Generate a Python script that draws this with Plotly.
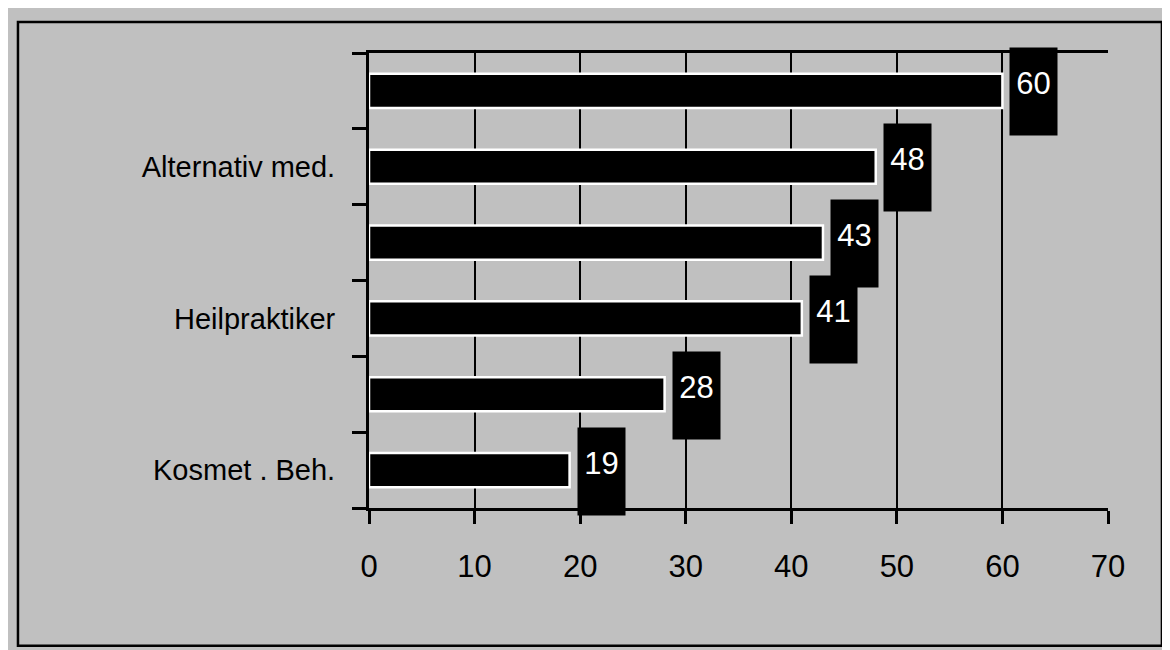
import plotly.graph_objects as go

# Data (bottom to top)
labels = ["Kosmet . Beh.", "", "Heilpraktiker", "", "Alternativ med.", ""]
values = [19, 28, 41, 43, 48, 60]
x_ticks = [0, 10, 20, 30, 40, 50, 60, 70]

FONT = "Liberation Sans, Arial, sans-serif"
pos = list(range(len(values)))

fig = go.Figure()
fig.add_trace(go.Bar(
    x=values, y=pos, orientation="h", width=0.45,
    marker=dict(color="black", line=dict(color="white", width=2.5)),
    hoverinfo="skip",
))

# value labels: black box + white text, drawn from top bar down so lower boxes overlap upper ones
for v, p in reversed(list(zip(values, pos))):
    fig.add_annotation(
        x=v, y=p, xref="x", yref="y", text=" ", showarrow=False,
        xanchor="left", yanchor="middle", xshift=7, yshift=-1,
        width=47, height=87, bgcolor="black", borderpad=0,
        font=dict(family=FONT, size=10, color="white"),
    )
    fig.add_annotation(
        x=v, y=p, xref="x", yref="y", text=str(v), showarrow=False,
        xanchor="left", yanchor="middle", xshift=7, yshift=7,
        width=47, align="center", borderpad=0,
        font=dict(family=FONT, size=31, color="white"),
    )

# outer frame
fig.add_shape(type="rect", xref="paper", yref="paper",
              x0=-0.475, x1=1.073, y0=-0.303, y1=1.068,
              line=dict(color="black", width=2.5), fillcolor="rgba(0,0,0,0)", layer="below")

fig.update_layout(
    width=1162, height=642,
    paper_bgcolor="#C0C0C0", plot_bgcolor="#C0C0C0",
    margin=dict(l=361, r=62, t=45, b=142),
    showlegend=False,
    font=dict(family=FONT, size=31, color="black"),
    xaxis=dict(
        range=[0, 70], tickmode="array", tickvals=x_ticks,
        showgrid=True, gridcolor="black", gridwidth=2,
        showline=True, linecolor="black", linewidth=3, mirror=True,
        ticks="outside", ticklen=13, tickwidth=3, tickcolor="black",
        ticklabelstandoff=16, zeroline=False,
        tickfont=dict(family=FONT, size=31, color="black"),
    ),
    yaxis=dict(
        range=[-0.5, 5.5], tickmode="array", tickvals=pos, ticktext=labels,
        showgrid=False, zeroline=False,
        showline=True, linecolor="black", linewidth=3,
        ticks="", ticklabelstandoff=25,
        tickfont=dict(family=FONT, size=29, color="black"),
        minor=dict(tickmode="linear", tick0=-0.5, dtick=1, ticks="outside",
                   ticklen=14, tickwidth=3, tickcolor="black", showgrid=False),
    ),
)

fig.write_html("out.html")
